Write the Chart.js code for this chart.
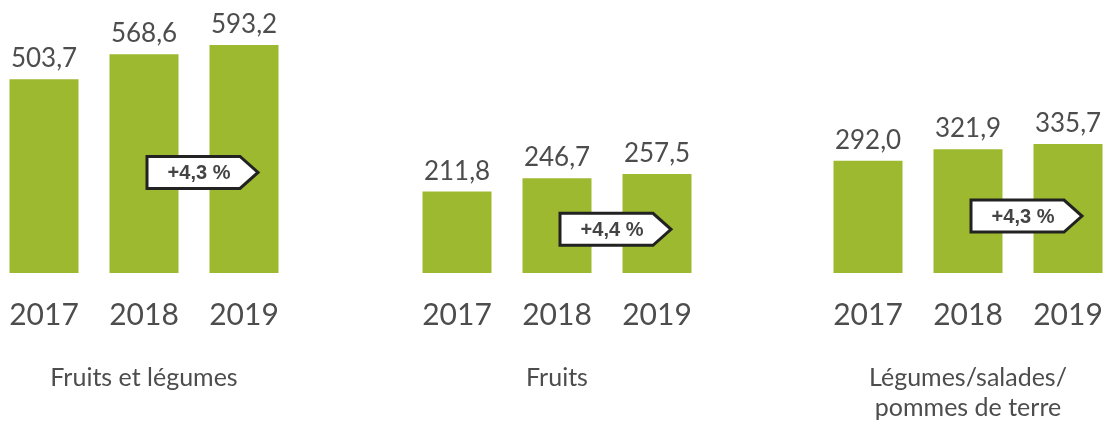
<!DOCTYPE html>
<html>
<head>
<meta charset="utf-8">
<script src="https://cdn.jsdelivr.net/npm/chart.js@4"></script>
<style>
  html, body { margin: 0; padding: 0; background: #fff; }
  body { width: 1111px; height: 425px; overflow: hidden; position: relative; }
  canvas { position: absolute; top: 0; }
</style>
</head>
<body>
<canvas id="chart1" width="300" height="425" style="left:-6px"></canvas>
<canvas id="chart2" width="300" height="425" style="left:407px"></canvas>
<canvas id="chart3" width="300" height="425" style="left:818px"></canvas>
<script>
const years = ['2017', '2018', '2019'];
const fruitsLegumes = [503.7, 568.6, 593.2];
const fruits = [211.8, 246.7, 257.5];
const legumes = [292.0, 321.9, 335.7];
const groupTitles = [
  ['Fruits et légumes', ''],
  ['Fruits', ''],
  ['Légumes/salades/', 'pommes de terre'],
];
const changeLabels = ['+4,3 %', '+4,4 %', '+4,3 %'];

const barColor = '#9cb92f';
const textColor = '#4d4d4d';

function fmt(v) {
  return v.toFixed(1).replace('.', ',');
}

// value above each bar
const valueLabels = {
  id: 'valueLabels',
  afterDatasetsDraw(chart) {
    const ctx = chart.ctx;
    const values = chart.data.datasets[0].data;
    ctx.save();
    ctx.font = '26px Lato';
    ctx.fillStyle = textColor;
    ctx.textAlign = 'center';
    ctx.textBaseline = 'alphabetic';
    chart.getDatasetMeta(0).data.forEach((bar, i) => {
      ctx.fillText(fmt(values[i]), bar.x, bar.y - 12);
    });
    ctx.restore();
  },
};

// arrow-shaped change badge on the middle bar
const changeBadge = {
  id: 'changeBadge',
  afterDraw(chart, args, opts) {
    if (!opts.text) return;
    const ctx = chart.ctx;
    const bar = chart.getDatasetMeta(0).data[1];
    const cy = bar.base - (bar.base - bar.y) * 0.46;
    const left = bar.x + 3;
    const w = 93, tip = 18, h = 32;
    ctx.save();
    ctx.beginPath();
    ctx.moveTo(left, cy - h / 2);
    ctx.lineTo(left + w, cy - h / 2);
    ctx.lineTo(left + w + tip, cy);
    ctx.lineTo(left + w, cy + h / 2);
    ctx.lineTo(left, cy + h / 2);
    ctx.closePath();
    ctx.fillStyle = '#fff';
    ctx.fill();
    ctx.lineWidth = 3;
    ctx.strokeStyle = '#222';
    ctx.lineJoin = 'miter';
    ctx.stroke();
    ctx.font = 'bold 20px "Liberation Sans", Arial, sans-serif';
    ctx.fillStyle = '#444';
    ctx.textAlign = 'center';
    ctx.textBaseline = 'middle';
    ctx.fillText(opts.text, left + 52, cy + 1);
    ctx.restore();
  },
};

function makeChart(id, values, title, change) {
  return new Chart(document.getElementById(id), {
    type: 'bar',
    data: {
      labels: years,
      datasets: [{
        data: values,
        backgroundColor: barColor,
        barPercentage: 0.69,
        categoryPercentage: 1.0,
      }],
    },
    options: {
      responsive: false,
      animation: false,
      layout: { padding: 0 },
      plugins: {
        legend: { display: false },
        tooltip: { enabled: false },
        changeBadge: { text: change },
      },
      scales: {
        y: {
          display: false,
          min: 0,
          max: 710,
        },
        x: {
          grid: { display: false, drawTicks: false },
          border: { display: false },
          ticks: {
            color: textColor,
            font: { family: 'Lato', size: 30, lineHeight: 2.8 },
            padding: 0,
          },
          title: {
            display: true,
            text: title,
            color: textColor,
            font: { family: 'Lato', size: 25, lineHeight: 1.2 },
            padding: { top: 6, bottom: 2 },
          },
        },
      },
    },
    plugins: [valueLabels, changeBadge],
  });
}

document.fonts.load('25px Lato').then(function () {
  makeChart('chart1', fruitsLegumes, groupTitles[0], changeLabels[0]);
  makeChart('chart2', fruits, groupTitles[1], changeLabels[1]);
  makeChart('chart3', legumes, groupTitles[2], changeLabels[2]);
});
</script>
</body>
</html>
